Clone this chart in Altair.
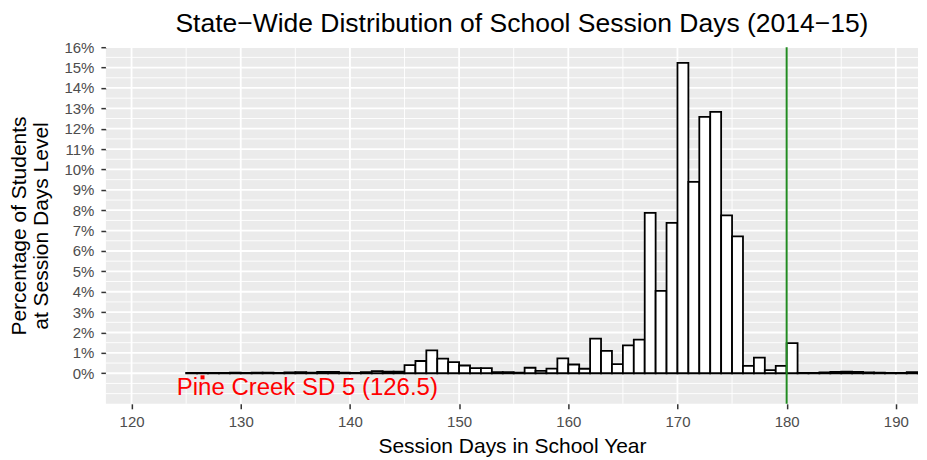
import altair as alt
import pandas as pd

# ---- data ----
days = list(range(125, 193))
pct = [
    # 125-141
    0.02, 0.02, 0.02, 0.02, 0.03, 0.02, 0.03, 0.03, 0.02, 0.04, 0.05, 0.03, 0.07, 0.07, 0.03, 0.02, 0.05,
    # 142-157
    0.10, 0.08, 0.08, 0.40, 0.60, 1.12, 0.72, 0.55, 0.38, 0.25, 0.25, 0.05, 0.05, 0.03, 0.27, 0.12,
    # 158-180
    0.23, 0.73, 0.43, 0.22, 1.70, 1.10, 0.45, 1.37, 1.65, 7.87, 4.04, 7.38, 15.23, 9.39, 12.58, 12.83,
    7.75, 6.72, 0.36, 0.77, 0.15, 0.36, 1.48,
    # 181-192
    0.02, 0.02, 0.04, 0.06, 0.08, 0.07, 0.04, 0.03, 0.02, 0.02, 0.05, 0.02,
]
x_ticks = [120, 130, 140, 150, 160, 170, 180, 190]
x_minor = [125, 135, 145, 155, 165, 175, 185]
y_ticks = list(range(0, 17))
y_minor = [-1.0, -0.5] + [v + 0.5 for v in range(0, 16)]
district_name = "Pine Creek SD 5"
district_days = 126.5
state_target = 180

title_text = "State\u2212Wide Distribution of School Session Days (2014\u221215)"

bars_df = pd.DataFrame({"day": days, "day_end": [d + 1 for d in days], "pct": pct})
xmaj_df = pd.DataFrame({"v": x_ticks})
xmin_df = pd.DataFrame({"v": x_minor})
ymaj_df = pd.DataFrame({"v": y_ticks})
ymin_df = pd.DataFrame({"v": y_minor})
dist_df = pd.DataFrame({"days": [district_days], "label": [f"{district_name} ({district_days})"]})

FONT = "Liberation Sans"
xs = alt.Scale(domain=[117.65, 192.03], nice=False, zero=False)
ys = alt.Scale(domain=[-1.5, 16], nice=False, zero=False)

xaxis = alt.Axis(values=x_ticks, title="Session Days in School Year", grid=False, domain=False,
                 tickColor="#333333", tickSize=5, tickWidth=1.5, labelPadding=6,
                 labelFontSize=15, labelColor="#4D4D4D", labelFont=FONT,
                 titleFont=FONT, titleFontSize=21, titleColor="black", titleFontWeight="normal",
                 titlePadding=6)
yaxis = alt.Axis(values=y_ticks, labelExpr="datum.value + '%'",
                 title=["Percentage of Students", "at Session Days Level"],
                 grid=False, domain=False,
                 tickColor="#333333", tickSize=5, tickWidth=1.5, labelPadding=7,
                 labelFontSize=15, labelColor="#4D4D4D", labelFont=FONT,
                 titleFont=FONT, titleFontSize=21, titleColor="black", titleFontWeight="normal",
                 titlePadding=12, titleLineHeight=22)

grid_xmin = alt.Chart(xmin_df).mark_rule(color="white", strokeWidth=0.9).encode(
    x=alt.X("v:Q", scale=xs, axis=xaxis))
grid_xmaj = alt.Chart(xmaj_df).mark_rule(color="white", strokeWidth=1.8).encode(
    x=alt.X("v:Q", scale=xs, axis=xaxis))
grid_ymin = alt.Chart(ymin_df).mark_rule(color="white", strokeWidth=0.9).encode(
    y=alt.Y("v:Q", scale=ys, axis=yaxis))
grid_ymaj = alt.Chart(ymaj_df).mark_rule(color="white", strokeWidth=1.8).encode(
    y=alt.Y("v:Q", scale=ys, axis=yaxis))

bars = alt.Chart(bars_df).mark_rect(fill="white", stroke="black", strokeWidth=1.8, clip=True).encode(
    x=alt.X("day:Q", scale=xs, axis=xaxis),
    x2="day_end:Q",
    y=alt.Y("pct:Q", scale=ys, axis=yaxis),
    y2=alt.datum(0),
)

point = alt.Chart(dist_df).mark_square(color="red", size=16, opacity=1).encode(
    x=alt.X("days:Q", scale=xs, axis=xaxis),
    y=alt.Y("pos:Q", scale=ys, axis=yaxis),
).transform_calculate(pos="-0.2")

label = alt.Chart(dist_df).mark_text(color="red", font=FONT, fontSize=24, align="center",
                                     baseline="alphabetic").encode(
    x=alt.X("lx:Q", scale=xs, axis=xaxis),
    y=alt.Y("ly:Q", scale=ys, axis=yaxis),
    text="label:N",
).transform_calculate(lx="136.1", ly="-1.08")

vline = alt.Chart(pd.DataFrame({"v": [state_target]})).mark_rule(color="#228B22", strokeWidth=2).encode(
    x=alt.X("v:Q", scale=xs, axis=xaxis))

chart = alt.layer(grid_ymin, grid_ymaj, grid_xmin, grid_xmaj, bars, point, vline, label).properties(
    width=813, height=357,
    padding={"left": 0, "top": 2, "right": 0, "bottom": 0},
    background="white",
    title=alt.TitleParams(text=title_text, font=FONT, fontSize=26.5, fontWeight="normal", color="black",
                          anchor="middle", offset=3, dx=10),
).configure_view(fill="#EBEBEB", strokeWidth=0)

chart.save("out.html", embed_options={"renderer": "svg", "actions": False})
